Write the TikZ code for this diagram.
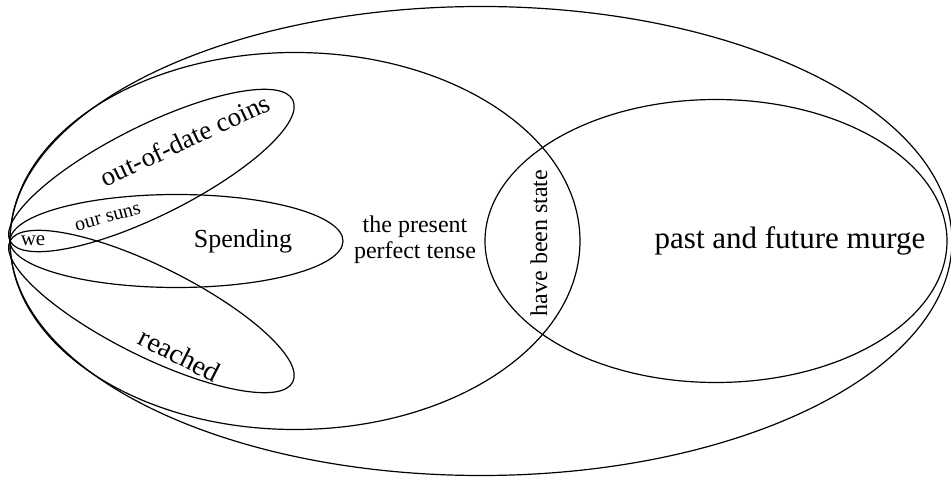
\documentclass[tikz,border=0pt]{standalone}
\usepackage{fontspec}
\setmainfont{Liberation Serif}
\usetikzlibrary{shapes.geometric}
\tikzset{
  set/.style={draw=black, line width=1.2pt, ellipse, inner sep=0pt, outer sep=0pt},
  lbl/.style={inner sep=0pt, align=center, text=black},
}
\newcommand{\fs}[2]{\fontsize{#1}{#2}\selectfont}
\begin{document}
\begin{tikzpicture}[x=1pt,y=1pt]
\useasboundingbox (0,0) rectangle (951,477);
% sets
\node[set, minimum width=942pt, minimum height=469pt] (outer) at (481,236) {};
\node[set, minimum width=570pt, minimum height=377pt] (ppt) at (295,236) {};
\node[set, minimum width=462pt, minimum height=283pt] (pf) at (716,236) {};
\node[set, minimum width=333pt, minimum height=93pt] (spend) at (176.5,236) {};
\node[set, minimum width=316pt, minimum height=90pt, rotate=26.5] (coins) at (151.4,306.5) {};
\node[set, minimum width=316pt, minimum height=90pt, rotate=-26.5] (reach) at (151.4,165.5) {};
% labels
\node[lbl, font=\fs{21}{23}] (we) at (33,236) {we};
\node[lbl, font=\fs{20}{22}, rotate=15] (suns) at (108,259) {our suns};
\node[lbl, font=\fs{26}{28}] (spl) at (243,236) {Spending};
\node[lbl, font=\fs{24}{26}] (pptl) at (415,237) {the present\\perfect tense};
\node[lbl, font=\fs{24}{26}, rotate=90] (hbs) at (539,234) {have been state};
\node[lbl, font=\fs{31}{33}] (pfl) at (790,236) {past and future murge};
\node[lbl, font=\fs{27}{29}, rotate=25] (coinsl) at (185,337) {out-of-date coins};
\node[lbl, font=\fs{28}{30}, rotate=-27] (reachl) at (180,122) {reached};
\end{tikzpicture}
\end{document}
